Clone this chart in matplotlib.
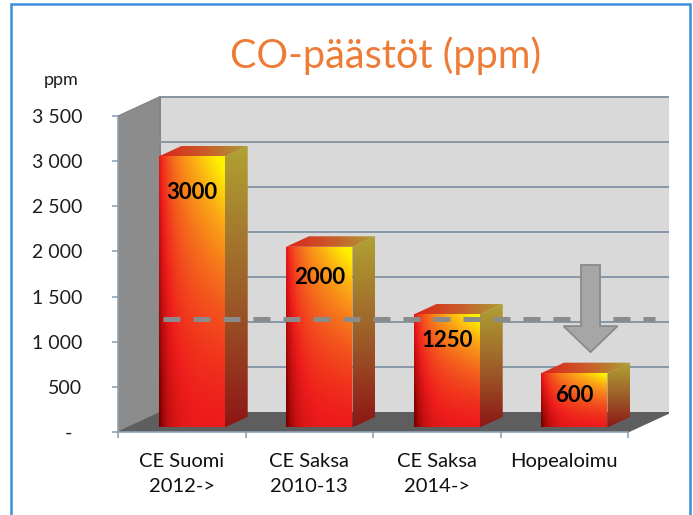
import numpy as np
import matplotlib
matplotlib.use('Agg')
import matplotlib.pyplot as plt
from matplotlib.patches import Polygon, Rectangle, FancyArrow
from matplotlib.colors import LinearSegmentedColormap, to_rgb

# ---------------- data ----------------
categories = ['CE Suomi\n2012->', 'CE Saksa\n2010-13', 'CE Saksa\n2014->', 'Hopealoimu']
values = [3000, 2000, 1250, 600]
y_ticks = [0, 500, 1000, 1500, 2000, 2500, 3000, 3500]
y_ticklabels = ['-  ', '500', '1 000', '1 500', '2 000', '2 500', '3 000', '3 500']
limit_value = 1250            # dashed reference line
arrow_top, arrow_tip = 1850, 885
title = 'CO-päästöt (ppm)'
unit_label = 'ppm'

plt.rcParams['font.family'] = ['Lato', 'DejaVu Sans']
plt.rcParams['lines.scale_dashes'] = False

W, H = 693, 515
fig = plt.figure(figsize=(W / 100, H / 100), dpi=100)
fig.patch.set_facecolor('white')

# axes: front plane x from 118px (=-0.5) ; y 0 at 432px
PXU = 127.5                   # px per category
PXV = 316 / 3500              # px per ppm
ax_left, ax_right, ax_top, ax_bot = 118, 669, 95, 432
ax = fig.add_axes([ax_left / W, 1 - ax_bot / H, (ax_right - ax_left) / W, (ax_bot - ax_top) / H])
XMAX = -0.5 + (ax_right - ax_left) / PXU
YMAX = (ax_bot - ax_top) / PXV
ax.set_facecolor('none')

DX, DY = 0.33, 215            # wall depth offset (data units)
YTOP = y_ticks[-1]
n = len(categories)


def grad_face(verts, img, zorder):
    poly = Polygon(verts, closed=True, facecolor='none', edgecolor='none')
    ax.add_patch(poly)
    xs = [v[0] for v in verts]
    ys = [v[1] for v in verts]
    im = ax.imshow(img, extent=(min(xs), max(xs), min(ys), max(ys)), origin='lower',
                   aspect='auto', interpolation='bilinear', zorder=zorder)
    im.set_clip_path(poly)


def cmap_img(cmap, t):
    return cmap(np.clip(t, 0, 1))[..., :3]


front_cmap = LinearSegmentedColormap.from_list('front', [
    (0.0, '#6a0000'), (0.12, '#b00a0a'), (0.3, '#ee1c1c'),
    (0.55, '#f4601e'), (0.8, '#fbaa15'), (1.0, '#fff200')])
side_cmap = LinearSegmentedColormap.from_list('side', [
    (0.0, '#8e1616'), (0.45, '#9c5a28'), (1.0, '#b0a233')])
top_cmap = LinearSegmentedColormap.from_list('top', [
    (0.0, '#dc241c'), (0.55, '#c8602a'), (1.0, '#aaa038')])

# ---------------- walls ----------------
x0, x1 = -0.5, n - 0.5
back = Polygon([(x0 + DX, DY), (x1 + DX, DY), (x1 + DX, YTOP + DY), (x0 + DX, YTOP + DY)],
               closed=True, facecolor='#d9d9d9', edgecolor='#7f8c99', lw=1.3, zorder=1)
ax.add_patch(back)
for yv in y_ticks[1:-1]:
    ax.plot([x0 + DX, x1 + DX], [yv + DY, yv + DY], color='#8797a6', lw=1.4, zorder=1.5)
side = Polygon([(x0, 0), (x0, YTOP), (x0 + DX, YTOP + DY), (x0 + DX, DY)],
               closed=True, facecolor='#8c8c8c', edgecolor='#808080', lw=0.8, zorder=1.2)
ax.add_patch(side)
floor = Polygon([(x0, 0), (x1, 0), (x1 + DX, DY), (x0 + DX, DY)],
                closed=True, facecolor='#5e5e5e', edgecolor='#5e5e5e', lw=0.8, zorder=1.3)
ax.add_patch(floor)

# ---------------- bars ----------------
BW = 0.52
D0, D1 = 0.24, 0.78
nx, ny = 120, 160
U, V = np.meshgrid(np.linspace(0, 1, nx), np.linspace(0, 1, ny))
front_t = 0.3 * (1 - np.exp(-6 * U)) + V ** 1.5 * (0.22 + 0.5 * U) + 0.05 * V
front_img = cmap_img(front_cmap, front_t)
side_img = cmap_img(side_cmap, V)
top_img = cmap_img(top_cmap, U)

for i, val in enumerate(values):
    fx0 = i - BW / 2 + D0 * DX
    fx1 = i + BW / 2 + D0 * DX
    fy0 = D0 * DY
    fy1 = val + D0 * DY
    bdx = (D1 - D0) * DX
    bdy = (D1 - D0) * DY
    grad_face([(fx1, fy0), (fx1 + bdx, fy0 + bdy), (fx1 + bdx, fy1 + bdy), (fx1, fy1)], side_img, 3)
    grad_face([(fx0, fy1), (fx1, fy1), (fx1 + bdx, fy1 + bdy), (fx0 + bdx, fy1 + bdy)], top_img, 3)
    grad_face([(fx0, fy0), (fx1, fy0), (fx1, fy1), (fx0, fy1)], front_img, 3.2)
    ax.text((fx0 + fx1) / 2, val * 0.94 - 165, f'{val}', ha='center', va='center',
            fontsize=16, fontweight='bold', color='black', zorder=8)

# ---------------- reference line & arrow ----------------
ax.plot([-0.15, 3.71], [limit_value, limit_value], color='#8b8b8b', lw=3.6,
        linestyle=(0, (12.2, 9.4)), zorder=6)
arr = FancyArrow(3.206, arrow_top, 0, arrow_tip - arrow_top, width=0.149, head_width=0.424,
                 head_length=288, length_includes_head=True, facecolor='#a6a6a6',
                 edgecolor='#8a8a8a', lw=1.3, zorder=7)
ax.add_patch(arr)

# ---------------- axes styling ----------------
ax.set_xlim(-0.5, XMAX)
ax.set_ylim(0, YMAX)
axis_col = '#8ea2b5'
for s in ['top', 'right']:
    ax.spines[s].set_visible(False)
ax.spines['left'].set_bounds(0, YTOP)
ax.spines['bottom'].set_bounds(x0, x1)
for s in ['left', 'bottom']:
    ax.spines[s].set_color(axis_col)
    ax.spines[s].set_linewidth(1.2)
    ax.spines[s].set_zorder(4)

ax.set_yticks(y_ticks)
ax.set_yticklabels(y_ticklabels)
ax.tick_params(axis='y', direction='out', length=4.3, width=1.2, color=axis_col,
               pad=21.5, labelsize=14, labelcolor='#1e1e1e')
ax.set_xticks(np.arange(-0.5, n, 1.0))
ax.set_xticklabels([])
ax.tick_params(axis='x', which='major', direction='out', length=4.3, width=1.2, color=axis_col)
ax.set_xticks(np.arange(n), minor=True)
ax.set_xticklabels(categories, minor=True, fontsize=14.5, color='#111111', linespacing=1.55)
ax.tick_params(axis='x', which='minor', length=0, pad=15)

# ---------------- texts ----------------
fig.text(386 / W, 1 - 68 / H, title, ha='center', va='baseline', fontsize=28.5, color='#EE7C36')
fig.text(61 / W, 1 - 80 / H, unit_label, ha='center', va='center', fontsize=13, color='#1e1e1e')

# border
fig.patches.append(Rectangle((11 / W, -0.02), (690 - 11) / W, 1 - 4 / H + 0.02,
                             transform=fig.transFigure, fill=False, edgecolor='#3a8fd9', lw=1.8))

fig.savefig('out.png', dpi=100)
